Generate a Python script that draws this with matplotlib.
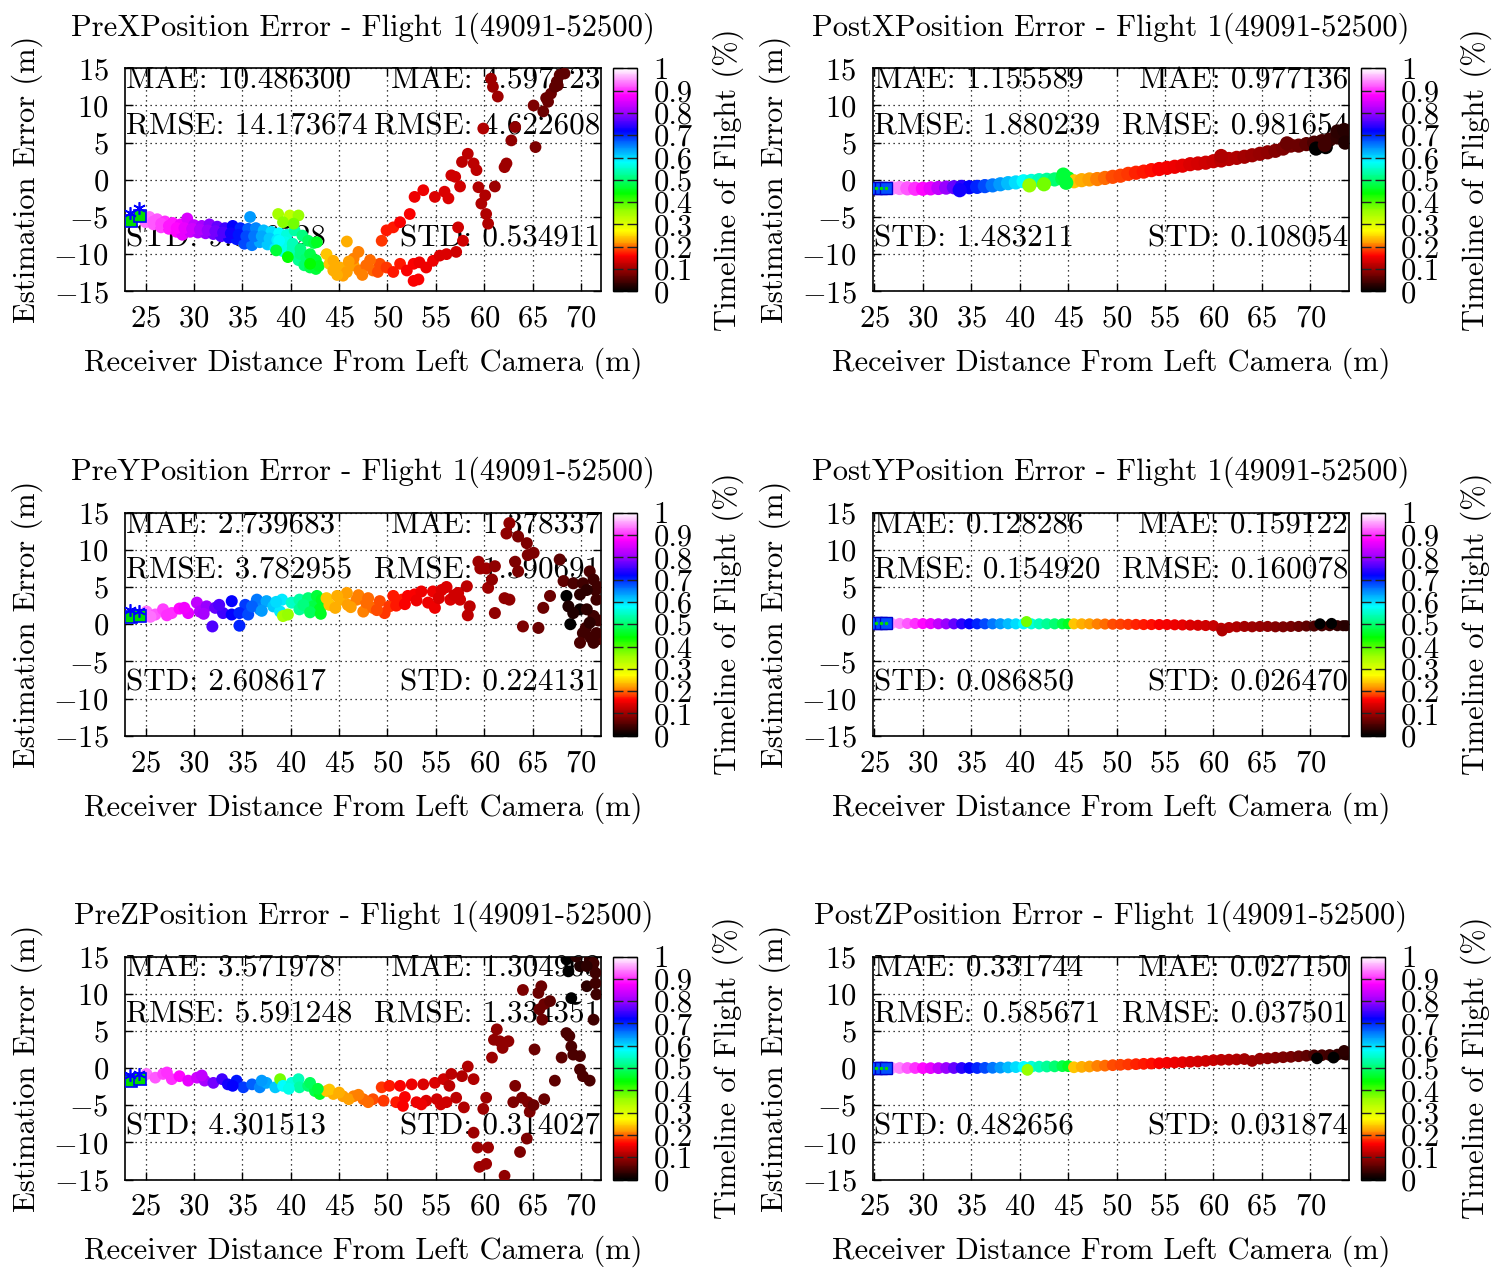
import matplotlib
matplotlib.use("Agg")
import matplotlib.pyplot as plt
from matplotlib.colors import LinearSegmentedColormap

plt.rcParams["font.family"] = "serif"
plt.rcParams["font.serif"] = ["cmr10"]
plt.rcParams["mathtext.fontset"] = "cm"
plt.rcParams["axes.formatter.use_mathtext"] = True
plt.rcParams["font.size"] = 22

# ---------------- data ----------------
# PreX: distance (m), error (m), timeline colour
prex_d = [24.6, 25.4, 26.2, 27.0, 27.8, 28.6, 29.3, 30.0, 30.8, 31.6, 32.4, 33.2, 34.0, 34.8, 35.6, 36.4, 37.2, 38.0, 38.8, 39.6, 40.4, 41.2, 41.8, 42.4,
          25.0, 25.8, 26.6, 27.4, 28.2, 28.8, 29.6, 30.4, 31.2, 32.0, 32.8, 33.6, 34.4, 35.2, 36.0, 36.8, 37.6, 38.4, 39.2, 40.0, 40.8, 41.4, 42.0, 42.6,
          25.8, 26.6, 27.4, 28.2, 29.0, 29.8, 30.6, 31.4, 32.2, 33.0, 33.8, 34.6, 35.4, 36.2, 37.0, 37.8, 38.6, 39.4, 40.2, 41.0, 41.6,
          38.8, 40.2, 41.0, 42.0, 42.6, 42.9, 42.7, 35.8, 38.7, 39.9, 40.8, 39.2, 40.3, 38.5, 39.7, 42.0,
          43.7, 44.0, 44.4, 45.1, 45.8, 46.5, 47.1, 47.8, 48.5, 49.2, 44.4, 45.8, 47.0, 46.5, 45.4,
          44.8, 46.0, 47.4, 48.2, 49.0,
          49.9, 50.6, 51.3, 52.0, 52.7, 52.7, 53.3, 54.0, 54.7, 55.4, 56.1, 57.1, 53.2,
          49.4, 49.9, 50.6, 51.3, 52.3, 52.8, 53.7, 54.9, 55.9, 56.3, 56.6, 57.0, 57.5, 57.3, 57.8, 57.7, 58.3, 58.9, 59.2, 59.4,
          59.7, 60.1, 60.2, 60.4, 59.9, 61.1, 60.9, 60.7, 61.4, 62.1, 62.3, 62.8, 63.2, 65.1, 65.3, 66.1, 66.4, 66.9, 67.3, 67.5,
          67.8, 66.6, 67.6, 68.3]
prex_e = [-4.7, -5.0, -5.3, -5.6, -5.8, -6.0, -5.2, -6.1, -6.2, -6.0, -6.3, -6.5, -6.2, -6.5, -6.6, -6.5, -6.8, -7.0, -7.2, -7.4, -6.8, -7.5, -8.2, -8.5,
          -5.7, -6.0, -6.4, -6.6, -7.0, -7.4, -7.0, -7.1, -7.2, -7.3, -7.6, -7.8, -8.0, -8.6, -8.8, -8.4, -8.7, -9.2, -9.6, -10.0, -10.8, -11.5, -11.8, -12.0,
          -5.6, -5.9, -6.2, -6.5, -6.5, -6.6, -6.7, -6.8, -6.9, -7.1, -7.2, -7.4, -7.6, -7.6, -7.6, -7.9, -8.1, -8.4, -9.2, -10.0, -10.5,
          -8.2, -8.6, -9.3, -10.0, -10.8, -11.6, -8.4, -5.0, -4.6, -4.8, -4.8, -5.7, -5.9, -9.5, -10.4, -11.3,
          -10.0, -11.3, -12.2, -11.8, -12.4, -11.5, -12.2, -11.5, -12.2, -11.3, -10.9, -8.3, -9.7, -10.6, -12.9,
          -12.8, -11.0, -12.8, -10.8, -12.4,
          -11.8, -12.4, -11.3, -12.2, -13.6, -11.3, -11.1, -11.8, -10.9, -10.2, -10.0, -9.7, -13.4,
          -8.2, -6.8, -6.4, -5.7, -4.6, -2.3, -1.4, -2.3, -1.6, -2.5, 0.6, 0.4, -0.9, -6.4, -8.2, 2.4, 3.5, 2.2, 1.3, -1.0,
          -3.2, -2.1, -4.6, -5.9, 6.9, -0.9, 12.5, 13.6, 11.2, 1.7, 2.2, 5.3, 7.1, 10.0, 4.4, 9.2, 11.0, 11.6, 12.5, 13.2,
          14.1, 10.5, 12.7, 14.3]
prex_t = [.94, .93, .92, .90, .89, .87, .85, .83, .81, .79, .77, .75, .72, .70, .67, .65, .62, .60, .58, .56, .53, .51, .49, .48,
          .93, .92, .91, .89, .88, .86, .84, .82, .80, .78, .76, .73, .71, .68, .66, .63, .61, .59, .57, .54, .52, .50, .48, .47,
          .92, .91, .89, .88, .86, .84, .82, .80, .78, .76, .73, .71, .68, .66, .63, .61, .59, .57, .54, .51, .50,
          .58, .54, .51, .48, .47, .46, .46, .64, .35, .33, .36, .37, .38, .47, .44, .44,
          .24, .24, .23, .23, .22, .22, .21, .20, .20, .19, .23, .23, .21, .21, .22,
          .23, .22, .21, .20, .19,
          .18, .17, .17, .16, .16, .16, .15, .15, .15, .14, .14, .13, .16,
          .18, .17, .17, .16, .16, .15, .15, .14, .14, .14, .13, .13, .13, .13, .13, .12, .12, .12, .12, .11,
          .11, .11, .11, .11, .11, .10, .10, .10, .10, .10, .10, .09, .09, .08, .08, .07, .07, .07, .06, .06,
          .06, .07, .06, .06]

# PreY
prey_d = [25.1, 26.0, 26.8, 27.7, 28.5, 29.4, 30.3, 30.6, 31.3, 32.2, 33.0, 33.9, 33.9, 31.9, 34.7, 35.3, 34.7, 35.6, 36.5, 36.8,
          37.5, 38.2, 39.1, 38.9, 39.2, 39.7, 40.1, 40.9, 40.9, 41.8, 42.3, 42.7, 43.0, 43.2,
          43.7, 44.0, 44.6, 45.1, 45.8, 45.9, 46.8, 47.5, 47.8, 48.5, 49.2, 49.7, 50.2, 50.6, 51.5, 52.1, 52.8, 53.5, 54.2, 54.9,
          54.7, 55.6, 56.1, 56.5, 57.3, 57.5, 58.2, 58.5, 58.3,
          25.5, 27.2, 29.0, 31.0, 32.6, 36.0, 37.0, 38.5, 41.3, 42.0, 43.1, 44.8, 46.2, 47.0, 48.0, 48.9, 50.9, 51.8, 53.0, 55.3,
          56.9, 71.8, 71.8, 71.0, 71.8, 70.5,
          59.4, 59.6, 60.2, 60.4, 60.8, 61.1, 61.1, 62.1, 62.6, 63.2, 63.5, 62.6, 62.3, 63.5, 64.4, 64.5, 65.1, 64.0, 65.6, 66.1,
          66.8, 67.8, 68.2, 68.5, 68.7, 68.9, 69.9, 69.9, 70.2, 69.9, 70.9, 71.3, 71.5, 71.6, 71.3, 71.6, 71.3, 70.9, 70.6, 69.2,
          69.2, 70.2, 70.6]
prey_e = [1.7, 1.3, 2.0, 1.5, 2.1, 1.5, 2.9, 1.7, 2.4, 2.2, 1.5, 1.3, 3.1, -0.3, -0.2, 2.6, 1.5, 1.3, 3.3, 2.0,
          3.1, 2.4, 3.3, 1.7, 1.1, 1.3, 2.9, 3.3, 2.0, 3.5, 2.4, 3.8, 2.0, 3.3,
          3.5, 2.6, 2.2, 3.3, 4.2, 2.6, 3.3, 1.7, 2.9, 2.2, 3.1, 1.5, 2.4, 3.8, 3.3, 3.8, 4.0, 4.4, 2.9, 2.2,
          4.4, 4.6, 5.0, 3.3, 4.2, 3.3, 5.1, 2.4, 1.2,
          1.0, 1.2, 2.2, 1.4, 2.6, 2.4, 1.8, 3.0, 2.6, 1.6, 1.4, 3.8, 2.3, 3.9, 3.5, 1.9, 2.5, 2.7, 3.2, 3.5,
          3.9, 5.0, 0.5, -1.8, -2.0, -0.5,
          8.4, 7.5, 7.5, 4.9, 6.0, 7.8, 1.5, 3.5, 3.3, 8.4, 7.1, 13.6, 12.2, 11.8, 10.9, 9.3, 9.6, -0.3, -0.5, 2.2,
          3.8, 8.7, 5.8, 3.8, 2.4, 0.0, 4.0, 2.0, -1.2, -2.5, 7.1, 6.0, 4.6, 3.3, 1.1, -1.2, -2.5, 0.2, 2.0, 1.5,
          5.5, 5.5, 4.6]
prey_t = [.93, .92, .91, .90, .88, .86, .83, .82, .80, .77, .75, .72, .72, .76, .70, .69, .70, .68, .66, .65,
          .63, .61, .59, .59, .35, .36, .55, .53, .52, .50, .48, .47, .46, .46,
          .24, .24, .23, .23, .22, .22, .21, .21, .20, .20, .19, .18, .18, .17, .17, .16, .16, .15, .15, .15,
          .15, .14, .14, .14, .13, .13, .12, .12, .12,
          .93, .90, .87, .81, .76, .67, .64, .60, .51, .49, .46, .23, .22, .21, .20, .19, .17, .16, .15, .14,
          .13, .04, .04, .04, .05, .04,
          .10, .10, .10, .10, .09, .09, .09, .09, .09, .08, .08, .09, .09, .08, .08, .08, .08, .08, .07, .07,
          .07, .06, .06, .00, .02, .00, .03, .01, .04, .05, .05, .04, .04, .04, .04, .04, .04, .03, .03, .02,
          .05, .04, .03]

# PreZ
prez_d = [25.1, 26.0, 26.8, 27.7, 28.5, 29.4, 30.3, 31.1, 32.0, 32.9, 33.5, 34.4, 35.1, 36.0, 36.8, 37.5, 38.4, 38.9, 39.2, 40.1,
          40.8, 40.9, 41.8, 42.5, 43.0,
          43.7, 44.4, 45.4, 46.5, 47.5, 48.5, 49.4, 49.6, 50.2, 50.9, 51.3, 51.6, 52.5, 53.0, 53.7, 54.0, 54.9, 55.1, 55.8, 56.1, 56.6,
          44.0, 45.0, 46.0, 47.0, 48.0, 51.8, 53.5, 55.5, 27.2, 30.8, 34.0, 37.0, 39.8, 42.0, 42.8,
          58.3, 57.7, 58.9, 56.4, 57.1, 57.9, 58.9, 59.3, 59.5, 60.2, 60.4, 59.9, 60.2, 60.8, 61.0, 61.3, 61.6, 62.5, 61.9, 62.1,
          63.2, 63.0, 63.9, 64.0, 64.5, 64.7, 64.4, 63.7, 65.1, 65.2, 65.6, 65.9, 65.7, 66.2, 66.8, 66.0, 66.2, 67.3, 68.0, 68.5,
          68.8, 69.0, 69.2, 69.9, 69.9, 70.2, 70.9, 69.0, 68.5, 68.7, 69.9, 70.6, 70.9, 71.3, 71.5, 71.5, 71.6, 71.3, 70.6, 69.5]
prez_e = [-0.8, -1.3, -0.8, -1.5, -1.1, -1.7, -1.3, -1.7, -2.0, -1.5, -2.2, -1.7, -2.6, -2.2, -2.6, -2.0, -2.6, -1.5, -2.4, -2.0,
          -1.5, -2.6, -2.4, -3.1, -3.5,
          -3.1, -3.5, -3.8, -3.8, -4.2, -4.2, -2.6, -4.4, -2.4, -4.6, -2.4, -5.1, -2.2, -4.6, -2.2, -4.4, -2.0, -4.2, -1.5, -4.6, -0.8,
          -2.9, -3.3, -4.2, -3.6, -4.6, -3.9, -4.9, -4.9, -0.6, -1.0, -2.4, -1.7, -2.8, -2.0, -2.8,
          0.2, -1.1, -1.5, -2.4, -4.0, -5.3, -8.7, -10.7, -13.3, -12.9, -10.7, -5.5, -4.0, 1.4, 3.8, 5.2, 3.6, 3.6, 2.7, -14.5,
          -2.4, -4.6, -4.0, 10.5, -4.6, -5.9, -9.5, -11.3, -5.0, 2.5, 10.1, 11.0, 7.9, 8.6, 9.0, 6.5, -4.2, -1.7, 1.4, 4.7,
          4.3, 2.9, 1.8, 1.6, -0.2, -1.1, -1.7, 9.4, 14.6, 13.0, 13.7, 11.0, 14.6, 14.1, 12.8, 11.4, 9.9, 6.5, 13.7, 15.0]
prez_t = [.93, .92, .91, .90, .88, .86, .84, .81, .78, .75, .73, .71, .69, .67, .65, .63, .61, .38, .58, .56,
          .54, .53, .50, .48, .46,
          .24, .23, .22, .21, .20, .19, .18, .18, .17, .17, .16, .16, .15, .15, .14, .14, .14, .13, .13, .13, .12,
          .24, .23, .22, .21, .20, .16, .15, .13, .90, .83, .72, .64, .57, .49, .47,
          .11, .11, .11, .12, .12, .11, .10, .10, .10, .10, .10, .10, .10, .10, .09, .09, .09, .09, .09, .09,
          .08, .08, .08, .08, .08, .08, .08, .08, .07, .07, .07, .07, .07, .07, .06, .07, .07, .06, .06, .05,
          .05, .05, .05, .05, .05, .05, .05, .00, .00, .00, .02, .03, .03, .04, .04, .04, .04, .04, .03, .03]

# Post panels share the same samples along the distance axis
post_d = [26.8, 27.6, 28.4, 29.2, 30.0, 30.8, 31.6, 32.4, 33.2, 34.0, 34.8, 35.6, 36.4, 37.2, 38.0, 38.8, 39.6, 40.4, 41.2, 42.0,
          42.8, 43.6, 44.4, 45.0, 45.6, 46.4, 47.2, 48.0, 48.8, 49.6, 50.4, 51.2, 52.0, 52.8, 53.6, 54.4, 55.2, 56.0, 56.8, 57.6,
          58.4, 59.2, 60.0, 60.8, 61.6, 62.4, 63.2, 64.0, 64.8, 65.6, 66.4, 67.2, 68.0, 68.8, 69.6, 70.4, 71.2, 72.0, 72.8, 73.4, 73.7]
post_t = [.95, .94, .92, .90, .88, .86, .83, .80, .77, .74, .72, .70, .68, .66, .64, .62, .60, .58, .56, .54,
          .52, .50, .48, .46, .24, .23, .22, .21, .20, .19, .185, .18, .175, .17, .165, .16, .155, .15, .145, .14,
          .135, .13, .125, .12, .115, .11, .105, .10, .095, .09, .085, .08, .075, .07, .06, .05, .045, .04, .035, .03, .025]
postx_e = [-1.10, -1.10, -1.15, -1.20, -1.20, -1.15, -1.10, -1.05, -1.00, -0.95, -1.00, -0.95, -0.85, -0.75, -0.60, -0.45, -0.35, -0.20, -0.15, -0.05,
           0.00, 0.05, 0.15, 0.20, -0.20, -0.05, 0.05, 0.10, 0.25, 0.40, 0.55, 0.80, 0.95, 1.10, 1.30, 1.45, 1.60, 1.75, 1.90, 2.10,
           2.20, 2.30, 2.50, 2.60, 2.80, 2.95, 3.10, 3.30, 3.50, 3.70, 3.90, 4.20, 4.60, 4.60, 4.80, 5.00, 5.20, 5.40, 5.70, 6.00, 5.60]
posty_e = [0.10, 0.10, 0.10, 0.10, 0.08, 0.08, 0.06, 0.05, 0.05, 0.05, 0.05, 0.05, 0.05, 0.05, 0.06, 0.06, 0.05, 0.05, 0.05, 0.05,
           0.05, 0.05, 0.05, 0.05, 0.05, 0.05, 0.05, 0.03, 0.02, 0.00, 0.00, -0.02, -0.03, -0.05, -0.05, -0.05, -0.05, -0.08, -0.10, -0.12,
           -0.15, -0.18, -0.20, -0.55, -0.45, -0.35, -0.30, -0.35, -0.30, -0.30, -0.35, -0.35, -0.30, -0.30, -0.25, -0.25, -0.22, -0.20, -0.20, -0.20, -0.20]
postz_e = [0.00, 0.00, 0.00, 0.00, -0.02, -0.02, -0.02, 0.00, 0.00, 0.00, 0.00, 0.00, 0.02, 0.03, 0.05, 0.08, 0.12, 0.15, 0.17, 0.18,
           0.20, 0.22, 0.25, 0.25, 0.10, 0.15, 0.20, 0.28, 0.32, 0.38, 0.43, 0.48, 0.52, 0.56, 0.60, 0.64, 0.70, 0.74, 0.78, 0.83,
           0.88, 0.95, 1.05, 1.10, 1.12, 1.15, 1.20, 0.95, 1.25, 1.30, 1.38, 1.45, 1.50, 1.58, 1.65, 1.70, 1.72, 1.75, 1.80, 1.90, 1.80]
# extra (off-centre) post samples
postx_extra_d = [44.5, 44.8, 41.0, 42.5, 70.6, 71.6, 72.8, 73.5, 73.6, 71.5, 60.8, 67.6, 33.8]
postx_extra_e = [0.7, -0.4, -0.75, -0.6, 4.2, 4.4, 6.5, 6.7, 5.0, 4.7, 3.2, 4.9, -1.4]
postx_extra_t = [.47, .47, .36, .38, .00, .00, .03, .025, .02, .04, .11, .07, .73]
posty_extra_d = [60.9, 71.0, 72.2, 40.7]
posty_extra_e = [-0.9, 0.05, 0.1, 0.35]
posty_extra_t = [.11, .00, .00, .38]
postz_extra_d = [40.8, 70.7, 72.4, 73.5]
postz_extra_e = [-0.25, 1.3, 1.4, 2.3]
postz_extra_t = [.36, .00, .00, .03]

# start-of-flight markers
pre_start_d = [23.5, 24.4]
prex_start_e = [-5.6, -4.9]
prey_start_e = [1.0, 1.1]
prez_start_e = [-1.7, -1.5]
pre_star_d = [23.4, 24.3]
prex_star_e = [-4.4, -3.8]
prey_star_e = [1.9, 1.8]
prez_star_e = [-0.9, -0.8]
post_start_d = [25.2, 25.7, 26.2]
postx_start_e = [-1.1, -1.1, -1.1]
posty_start_e = [0.1, 0.1, 0.1]
postz_start_e = [0.0, 0.0, 0.0]

titles = ["PreXPosition Error - Flight 1(49091-52500)", "PostXPosition Error - Flight 1(49091-52500)",
          "PreYPosition Error - Flight 1(49091-52500)", "PostYPosition Error - Flight 1(49091-52500)",
          "PreZPosition Error - Flight 1(49091-52500)", "PostZPosition Error - Flight 1(49091-52500)"]
stats_left = [["MAE: 10.486300", "RMSE: 14.173674", "STD: 9.536528"],
              ["MAE: 1.155589", "RMSE: 1.880239", "STD: 1.483211"],
              ["MAE: 2.739683", "RMSE: 3.782955", "STD: 2.608617"],
              ["MAE: 0.128286", "RMSE: 0.154920", "STD: 0.086850"],
              ["MAE: 3.571978", "RMSE: 5.591248", "STD: 4.301513"],
              ["MAE: 0.331744", "RMSE: 0.585671", "STD: 0.482656"]]
stats_right = [["MAE: 4.597123", "RMSE: 4.622608", "STD: 0.534911"],
               ["MAE: 0.977136", "RMSE: 0.981654", "STD: 0.108054"],
               ["MAE: 1.378337", "RMSE: 1.390691", "STD: 0.224131"],
               ["MAE: 0.159122", "RMSE: 0.160078", "STD: 0.026470"],
               ["MAE: 1.304963", "RMSE: 1.334351", "STD: 0.314027"],
               ["MAE: 0.027150", "RMSE: 0.037501", "STD: 0.031874"]]

x_ticks = [25, 30, 35, 40, 45, 50, 55, 60, 65, 70]
y_ticks = [-15, -10, -5, 0, 5, 10, 15]
cbar_ticks = [0, 0.1, 0.2, 0.3, 0.4, 0.5, 0.6, 0.7, 0.8, 0.9, 1.0]
cbar_labels = ["0", "0.1", "0.2", "0.3", "0.4", "0.5", "0.6", "0.7", "0.8", "0.9", "1"]

cmap_pos = [0.0, 0.1, 0.16, 0.22, 0.27, 0.36, 0.44, 0.58, 0.65, 0.72, 0.80, 0.88, 1.0]
cmap_col = ["#000000", "#a00000", "#ff0000", "#ffa000", "#ffff00", "#99ff00", "#00ff00",
            "#00ffff", "#0088ff", "#0000ff", "#9900ff", "#ff00ff", "#ffffff"]
cmap = LinearSegmentedColormap.from_list("flight", list(zip(cmap_pos, cmap_col)))

# ---------------- figure ----------------
W, H = 1493.0, 1269.0
fig = plt.figure(figsize=(W / 100, H / 100), dpi=100)
col_left = [125.3, 873.0]
row_top = [68.3, 512.7, 956.5]
ax_w, ax_h = 476.0, 223.0


def draw_panel(k, d, e, t, is_post, start_e, star_e, size):
    col, row = k % 2, k // 2
    x0, y0 = col_left[col], row_top[row]
    ax = fig.add_axes([x0 / W, 1 - (y0 + ax_h) / H, ax_w / W, ax_h / H])
    cax = fig.add_axes([(x0 + ax_w + 11.5) / W, 1 - (y0 + ax_h) / H, 24 / W, ax_h / H])

    sc = ax.scatter(d, e, c=t, cmap=cmap, vmin=0, vmax=1, s=size, edgecolors="none", zorder=4)
    if is_post:
        ax.plot(post_start_d, start_e, "s", mfc="#0050ff", mec="#0000cc", ms=9, zorder=5)
        ax.plot(post_start_d, start_e, ".", color="#00dd00", ms=3, zorder=6)
        ax.set_xlim(24.85, 74.0)
    else:
        ax.plot(pre_start_d, start_e, "s", mfc="#00dd00", mec="blue", ms=8, mew=1.2, zorder=5)
        ax.plot(pre_star_d, star_e, marker=(6, 2, 0), ls="none", color="blue", ms=9, mew=1.2, zorder=5)
        ax.set_xlim(22.9, 72.1)
    ax.set_ylim(-15, 15)
    ax.set_xticks(x_ticks)
    ax.set_yticks(y_ticks)
    ax.grid(True, color="black", linestyle=(0, (1, 3)), linewidth=0.9)
    ax.set_axisbelow(True)
    ax.tick_params(direction="in", length=6, width=1, top=True, right=True)
    ax.tick_params(axis="x", pad=10)
    ax.tick_params(axis="y", pad=12)
    for sp in ax.spines.values():
        sp.set_linewidth(1.2)

    for ly, lt, rt in zip([0.943, 0.738, 0.236], stats_left[k], stats_right[k]):
        ax.text(0.002, ly, lt, transform=ax.transAxes, ha="left", va="center", fontsize=22.4, zorder=2)
        ax.text(0.998, ly, rt, transform=ax.transAxes, ha="right", va="center", fontsize=22.4, zorder=2)

    ax.set_title(titles[k], fontsize=22, y=1.18, va="center", pad=0)
    ax.set_xlabel("Receiver Distance From Left Camera (m)", va="center")
    ax.xaxis.set_label_coords(0.5, -0.324)
    ax.set_ylabel("Estimation Error (m)", va="center")
    ax.yaxis.set_label_coords(-0.205, 0.5)

    cb = fig.colorbar(sc, cax=cax)
    cb.set_ticks(cbar_ticks)
    cb.set_ticklabels(cbar_labels)
    cb.outline.set_linewidth(1.0)
    cax.tick_params(direction="in", length=7, width=1, left=True, right=True,
                    labelleft=False, labelright=True, pad=12, color="#222222")
    cax.set_ylabel("Timeline of Flight (%)", rotation=90, va="center")
    cax.yaxis.set_label_coords(4.81, 0.5)


draw_panel(0, prex_d, prex_e, prex_t, False, prex_start_e, prex_star_e, 72)
draw_panel(1, post_d + postx_extra_d, postx_e + postx_extra_e, post_t + postx_extra_t, True, postx_start_e, None, 105)
draw_panel(2, prey_d, prey_e, prey_t, False, prey_start_e, prey_star_e, 75)
draw_panel(3, post_d + posty_extra_d, posty_e + posty_extra_e, post_t + posty_extra_t, True, posty_start_e, None, 64)
draw_panel(4, prez_d, prez_e, prez_t, False, prez_start_e, prez_star_e, 72)
draw_panel(5, post_d + postz_extra_d, postz_e + postz_extra_e, post_t + postz_extra_t, True, postz_start_e, None, 72)

fig.savefig("out.png", dpi=100)
